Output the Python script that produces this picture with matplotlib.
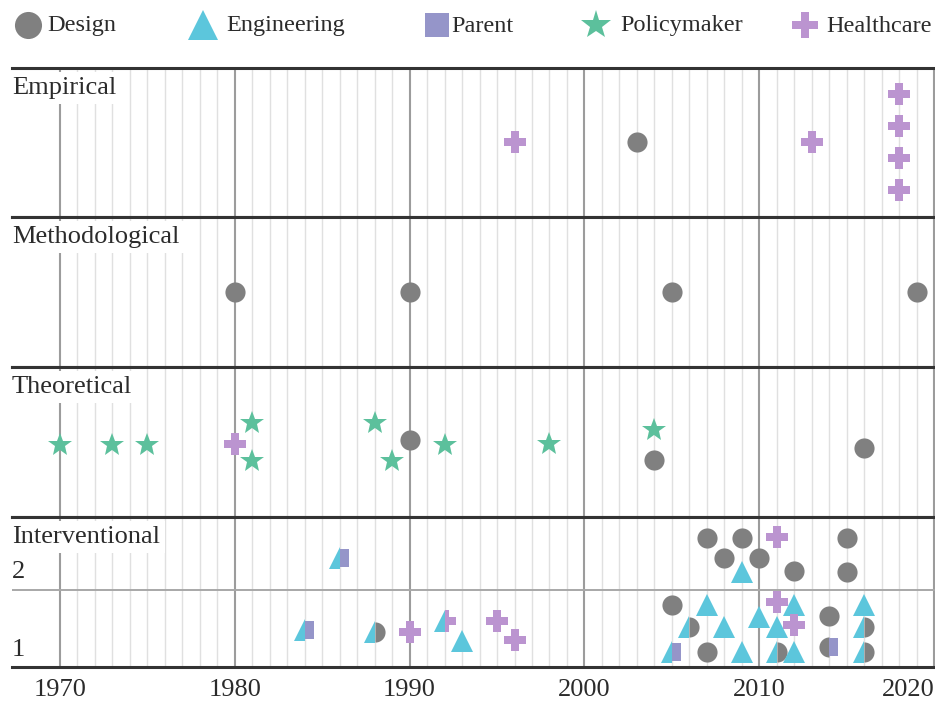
import matplotlib
matplotlib.use("Agg")
import matplotlib.pyplot as plt

# ── data ─────────────────────────────────────────────────────────────────────
# stakeholder codes: D=Design, E=Engineering, P=Parent, Y=Policymaker, H=Healthcare
# "E+D" = split marker, left half Engineering, right half Design
# y is the position inside its panel (0 = bottom, 1 = top)
PANELS = ["Empirical", "Methodological", "Theoretical", "Interventional"]

emp_year = [1996, 2003, 2013, 2018, 2018, 2018, 2018]
emp_y    = [0.50, 0.50, 0.50, 0.826, 0.611, 0.396, 0.181]
emp_kind = ["H", "D", "H", "H", "H", "H", "H"]

met_year = [1980, 1990, 2005, 2019]
met_y    = [0.50, 0.50, 0.50, 0.50]
met_kind = ["D", "D", "D", "D"]

the_year = [1970, 1973, 1975, 1980, 1981, 1981, 1988, 1989, 1990, 1992,
            1998, 2004, 2004, 2016]
the_y    = [0.48, 0.48, 0.48, 0.49, 0.627, 0.373, 0.627, 0.373, 0.513, 0.48,
            0.487, 0.58, 0.38, 0.46]
the_kind = ["Y", "Y", "Y", "H", "Y", "Y", "Y", "Y", "D", "Y",
            "Y", "Y", "D", "D"]

int_year = [1986, 1984, 1988, 1990, 1992, 1993, 1995, 1996,
            2007, 2009, 2011, 2015, 2008, 2010, 2009, 2012, 2015,
            2005, 2007, 2011, 2012, 2014, 2016,
            2006, 2008, 2010, 2011, 2012, 2016,
            2005, 2007, 2009, 2011, 2012, 2014, 2016]
int_y    = [0.727, 0.247, 0.233, 0.233, 0.307, 0.173, 0.307, 0.18,
            0.86, 0.86, 0.867, 0.86, 0.727, 0.727, 0.633, 0.64, 0.633,
            0.413, 0.413, 0.433, 0.413, 0.34, 0.413,
            0.267, 0.267, 0.333, 0.267, 0.28, 0.267,
            0.10, 0.10, 0.10, 0.10, 0.10, 0.133, 0.10]
int_kind = ["E+P", "E+P", "E+D", "H", "E+H", "E", "H", "H",
            "D", "D", "H", "D", "D", "D", "E", "D", "D",
            "D", "E", "H", "E", "D", "E",
            "E+D", "E", "E", "E", "H", "E+D",
            "E+P", "D", "E", "E+D", "E", "D+P", "E+D"]

PANEL_DATA = [(emp_year, emp_y, emp_kind),
              (met_year, met_y, met_kind),
              (the_year, the_y, the_kind),
              (int_year, int_y, int_kind)]

LEGEND_CODES  = ["D", "E", "P", "Y", "H"]
LEGEND_LABELS = ["Design", "Engineering", "Parent", "Policymaker", "Healthcare"]
TICK_YEARS = [1970, 1980, 1990, 2000, 2010, 2020]

# ── style ────────────────────────────────────────────────────────────────────
COLORS  = {"D": "#808080", "E": "#5cc6dc", "P": "#9595c9",
           "Y": "#5cc09c", "H": "#bb94d0"}
MARKERS = {"D": "o", "E": "^", "P": "s", "Y": "*", "H": "P"}
SIZES   = {"D": 14.5, "E": 16, "P": 13, "Y": 18, "H": 15.5}
LEG_SIZES = {"D": 19.5, "E": 22, "P": 17.5, "Y": 22, "H": 19}

FONT = "Liberation Serif"
FS = 19
LEG_FS = 17.5
TXT = "#2b2b2b"
plt.rcParams["font.family"] = [FONT, "DejaVu Serif"]

W, H = 935, 706
fig = plt.figure(figsize=(W / 100, H / 100), dpi=100)

# panel edges in pixels from top of figure
edges = [68, 217, 367, 517, 667]
X0, X1 = 12, 935
XMIN, XMAX = 1967.26, 2020.05


def draw_mark(ax, x, y, kind, size_map):
    parts = kind.split("+")
    if len(parts) == 1:
        ax.plot([x], [y], MARKERS[kind], color=COLORS[kind],
                ms=size_map[kind], mew=0, ls="none", zorder=5)
        return
    for code, side in zip(parts, ["left", "right"]):
        ax.plot([x], [y], MARKERS[code], ms=size_map[code], mew=0, ls="none",
                markerfacecolor=COLORS[code], markerfacecoloralt="none",
                fillstyle=side, zorder=5)


axes = []
for i, name in enumerate(PANELS):
    top, bot = edges[i], edges[i + 1]
    ax = fig.add_axes([X0 / W, 1 - bot / H, (X1 - X0) / W, (bot - top) / H])
    ax.set_xlim(XMIN, XMAX)
    ax.set_ylim(0, 1)
    for yr in range(1970, 2021):
        if yr % 10 == 0:
            ax.axvline(yr, color="#9c9c9c", lw=1.5, zorder=1)
        else:
            ax.axvline(yr, color="#e0e0e0", lw=1.0, zorder=1)
    for s in ["left", "right"]:
        ax.spines[s].set_visible(False)
    for s in ["top", "bottom"]:
        ax.spines[s].set_color("#333333")
        ax.spines[s].set_linewidth(2.2)
        ax.spines[s].set_zorder(6)
    ax.set_yticks([])
    ax.set_xticks([])

    ax.annotate(name, xy=(0, 1), xycoords="axes fraction", xytext=(0, -6.5),
                textcoords="offset points", ha="left", va="top", fontsize=FS,
                color=TXT, zorder=4,
                bbox=dict(boxstyle="square,pad=0.2", fc="white", ec="none"))

    years, ys, kinds = PANEL_DATA[i]
    for x, y, k in zip(years, ys, kinds):
        draw_mark(ax, x, y, k, SIZES)
    axes.append(ax)

# interventional sub rows
iax = axes[-1]
iax.axhline(0.513, color="#a8a8a8", lw=1.4, zorder=2)
for lab, yy in [("2", 0.63), ("1", 0.11)]:
    iax.text(0.0, yy, lab, transform=iax.get_yaxis_transform(), ha="left",
             va="center", fontsize=FS, color=TXT, zorder=4,
             bbox=dict(boxstyle="square,pad=0.1", fc="white", ec="none"))

# year labels
iax.set_xticks(TICK_YEARS)
iax.set_xticklabels([str(y) for y in TICK_YEARS])
iax.tick_params(axis="x", length=0, labelbottom=True, labelsize=FS,
                labelcolor=TXT, pad=9)
iax.get_xticklabels()[-1].set_ha("right")

# legend row
lax = fig.add_axes([0, 1 - 50 / H, 1, 50 / H])
lax.set_xlim(0, W)
lax.set_ylim(50, 0)
lax.axis("off")
leg_pos = [(28, 47), (203, 226), (437, 451), (596, 620), (805, 826)]
for code, label, (mx, tx) in zip(LEGEND_CODES, LEGEND_LABELS, leg_pos):
    draw_mark(lax, mx, 25, code, LEG_SIZES)
    lax.text(tx, 26, label, ha="left", va="center", fontsize=LEG_FS, color=TXT)

fig.savefig("out.png", dpi=100)
